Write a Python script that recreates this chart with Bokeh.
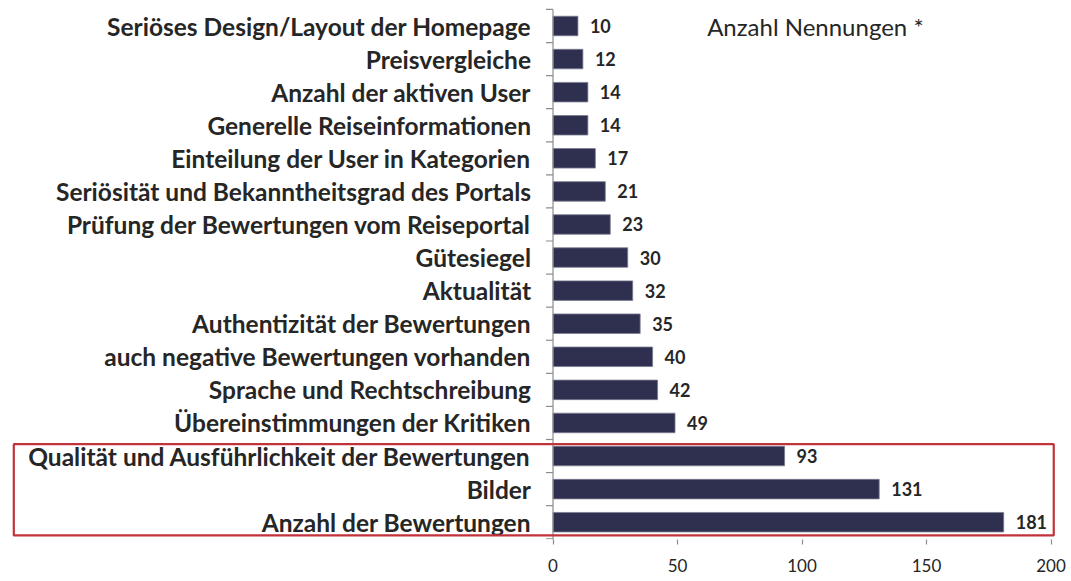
from bokeh.plotting import figure
from bokeh.models import Range1d, FixedTicker, ColumnDataSource, Label
from bokeh.core.properties import value
from bokeh.embed import file_html
from bokeh.resources import INLINE

categories = [
    "Seriöses Design/Layout der Homepage",
    "Preisvergleiche",
    "Anzahl der aktiven User",
    "Generelle Reiseinformationen",
    "Einteilung der User in Kategorien",
    "Seriösität und Bekanntheitsgrad des Portals",
    "Prüfung der Bewertungen vom Reiseportal",
    "Gütesiegel",
    "Aktualität",
    "Authentizität der Bewertungen",
    "auch negative Bewertungen vorhanden",
    "Sprache und Rechtschreibung",
    "Übereinstimmungen der Kritiken",
    "Qualität und Ausführlichkeit der Bewertungen",
    "Bilder",
    "Anzahl der Bewertungen",
]
counts = [10, 12, 14, 14, 17, 21, 23, 30, 32, 35, 40, 42, 49, 93, 131, 181]
x_ticks = [0, 50, 100, 150, 200]
highlight = ["Qualität und Ausführlichkeit der Bewertungen", "Bilder", "Anzahl der Bewertungen"]
title_text = "Anzahl Nennungen *"

W, H = 1071, 581
FONT = "Lato"
BAR = "#2f3050"
TXT = "#262626"
AXC = "#8c8c8c"

rows = list(range(len(categories)))
x_start, x_end = -221.89, 208.23
px = W / (x_end - x_start)  # pixels per data unit

p = figure(width=W, height=H, output_backend="svg", toolbar_location=None,
           x_range=Range1d(x_start, x_end),
           y_range=Range1d(15.523, -0.771),
           y_axis_type=None,
           min_border_left=0, min_border_right=0, min_border_top=0, min_border_bottom=42)
p.outline_line_color = None
p.xgrid.visible = False
p.ygrid.visible = False
p.background_fill_color = "white"
p.border_fill_color = "white"

src = ColumnDataSource(dict(y=rows, v=counts, cat=categories, vl=[str(c) for c in counts]))
p.hbar(y="y", right="v", left=0, height=0.59, source=src, fill_color=BAR,
       line_color="#7a7b90", line_width=0.8)

# value labels
p.text(x="v", y="y", text="vl", source=src, x_offset=12, text_align="left",
       text_baseline="middle", text_font=value(FONT), text_font_style="bold",
       text_font_size="18px", text_color=TXT)

# category labels
p.text(x=0, y="y", text="cat", source=src, x_offset=-22, text_align="right",
       text_baseline="middle", text_font=value(FONT), text_font_style="bold",
       text_font_size="24.5px", text_color=TXT)

# vertical axis line with ticks at category boundaries
n = len(categories)
p.segment(x0=[0], y0=[-0.5], x1=[0], y1=[n], line_color=AXC, line_width=1.2)
bounds = [i - 0.5 for i in range(n + 1)]
p.segment(x0=[-7 / px] * len(bounds), y0=bounds, x1=[0] * len(bounds), y1=bounds,
          line_color=AXC, line_width=1.2)

# red highlight rectangle
hi_rows = [categories.index(c) for c in highlight]
p.quad(left=[x_start + 13.3 / px], right=[201.1], top=[min(hi_rows) - 0.36],
       bottom=[max(hi_rows) + 0.40], fill_color=None, line_color="#c0333b", line_width=2.2)

# x axis
ax = p.xaxis[0]
ax.ticker = FixedTicker(ticks=x_ticks)
ax.axis_line_color = None
ax.major_tick_in = 0
ax.major_tick_out = 5
ax.major_tick_line_color = AXC
ax.major_tick_line_width = 1.2
ax.minor_tick_line_color = None
ax.major_label_text_font = FONT
ax.major_label_text_font_size = "17px"
ax.major_label_text_color = TXT
ax.major_label_standoff = 14

p.add_layout(Label(x=61.9, y=0, text=title_text, text_font=FONT, text_font_size="24px",
                   text_color=TXT, text_baseline="middle", text_align="left"))

open("out.html", "w").write(file_html(p, INLINE))
